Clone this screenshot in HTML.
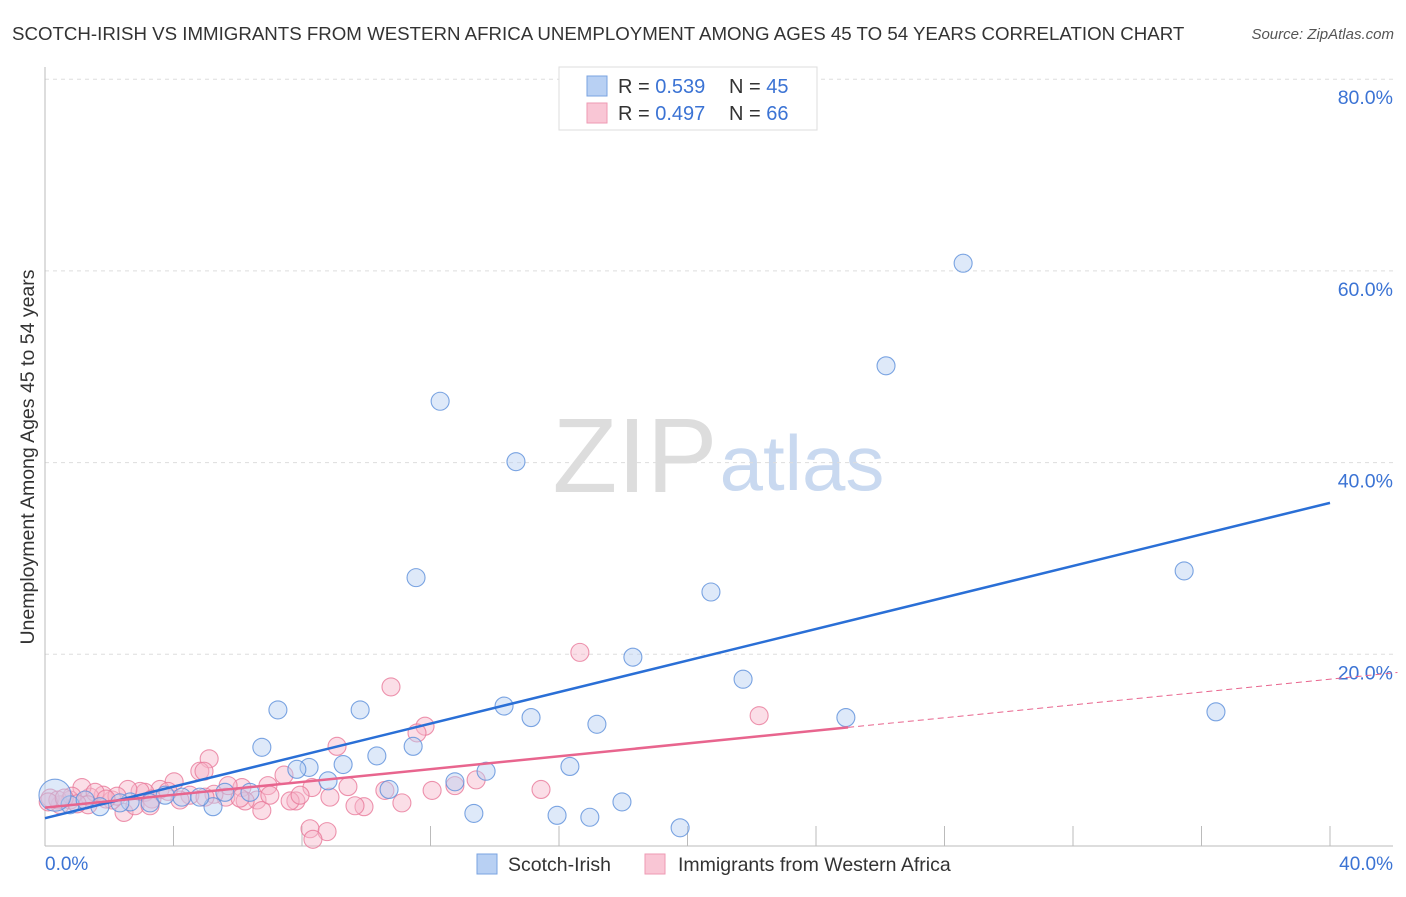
<!DOCTYPE html>
<html><head><meta charset="utf-8"><style>
body{margin:0;background:#fff;font-family:"Liberation Sans",sans-serif;}
svg text{font-family:"Liberation Sans",sans-serif;}
</style></head><body>
<svg width="1406" height="892" viewBox="0 0 1406 892">
<text x="12" y="40" font-size="18.7" fill="#333">SCOTCH-IRISH VS IMMIGRANTS FROM WESTERN AFRICA UNEMPLOYMENT AMONG AGES 45 TO 54 YEARS CORRELATION CHART</text>
<text x="1394" y="39" font-size="15" fill="#555" font-style="italic" text-anchor="end">Source: ZipAtlas.com</text>
<g>
<text x="635" y="492" font-size="106" fill="#ddd" font-family="Liberation Serif, serif" text-anchor="middle">ZIP</text>
<text x="802" y="490" font-size="78" fill="#c9d9f0" text-anchor="middle">atlas</text>
</g>
<g id="grid"></g>
<g id="axes"></g>
<g id="marks"></g>
<text transform="translate(34,457) rotate(-90)" font-size="19.5" fill="#333" text-anchor="middle">Unemployment Among Ages 45 to 54 years</text>
<text x="45" y="870" font-size="19" fill="#3b73d4">0.0%</text>
<text x="1393" y="870" font-size="19" fill="#3b73d4" text-anchor="end">40.0%</text>
<g>
<rect x="559" y="67" width="258" height="63" fill="#fff" stroke="#ddd"/>
<rect x="587" y="76" width="20" height="20" fill="#b8d0f3" stroke="#7aa3e0"/>
<rect x="587" y="103" width="20" height="20" fill="#f9c6d5" stroke="#ee9ab3"/>
<text x="618" y="93" font-size="20" fill="#333">R = <tspan fill="#3b73d4">0.539</tspan></text>
<text x="729" y="93" font-size="20" fill="#333">N = <tspan fill="#3b73d4">45</tspan></text>
<text x="618" y="120" font-size="20" fill="#333">R = <tspan fill="#3b73d4">0.497</tspan></text>
<text x="729" y="120" font-size="20" fill="#333">N = <tspan fill="#3b73d4">66</tspan></text>
</g>
<g>
<rect x="477" y="854" width="20" height="20" fill="#b8d0f3" stroke="#7aa3e0"/>
<text x="508" y="871" font-size="19.5" fill="#333">Scotch-Irish</text>
<rect x="645" y="854" width="20" height="20" fill="#f9c6d5" stroke="#ee9ab3"/>
<text x="678" y="871" font-size="19.5" fill="#333">Immigrants from Western Africa</text>
</g>
</svg>
<script>
const yTicks=[20,40,60,80];
const yTickLabels=["20.0%","40.0%","60.0%","80.0%"];
const xTicks=[0,4,8,12,16,20,24,28,32,36,40];
const blueX=[28.58,26.18,12.30,14.66,11.55,20.73,35.46,18.30,21.73,36.45,7.25,9.81,14.29,15.13,17.18,24.93,6.75,11.46,10.33,8.22,9.28,7.84,8.81,13.73,16.34,12.76,10.71,17.96,13.35,15.94,16.96,19.77,5.23,4.26,3.27,1.71,0.78,0.31,2.65,5.60,6.38,4.82,3.74,1.25,2.33];
const blueY=[60.8,50.1,46.4,40.1,28.0,26.5,28.7,19.7,17.4,14.0,14.2,14.2,14.6,13.4,12.7,13.4,10.3,10.4,9.4,8.2,8.5,8.0,6.8,7.8,8.3,6.7,5.9,4.6,3.4,3.2,3.0,1.9,4.1,5.1,4.5,4.1,4.3,5.3,4.6,5.6,5.6,5.1,5.3,4.8,4.5];
const pinkX=[16.65,10.77,22.23,11.83,11.58,9.09,5.11,4.82,4.95,8.31,9.43,15.44,12.76,13.42,12.05,11.11,9.93,9.65,8.87,7.81,7.63,7.44,6.94,6.60,6.13,6.23,6.75,5.63,5.70,5.26,4.51,4.02,3.58,3.11,2.96,2.58,2.46,2.09,1.81,1.40,1.15,0.78,0.47,0.16,8.25,8.78,8.34,4.20,3.33,3.83,2.24,1.56,6.07,4.98,10.58,7.94,2.80,0.40,0.84,1.34,3.27,7.00,0.10,0.60,1.00,1.90];
const pinkY=[20.2,16.6,13.6,12.5,11.8,10.4,9.1,7.8,7.8,6.1,6.2,5.9,6.3,6.9,5.8,4.5,4.1,4.2,5.1,4.7,4.7,7.4,6.3,4.8,6.1,4.7,3.7,5.1,6.3,5.4,5.3,6.7,5.9,5.6,5.7,5.9,3.5,4.8,5.3,5.1,6.1,4.8,4.3,5.0,1.8,1.5,0.7,4.8,4.9,5.7,5.2,5.6,5.0,5.1,5.8,5.3,4.2,4.8,5.2,4.3,4.2,5.3,4.6,5.0,4.4,4.9];
const blueTrend=[2.9,35.8];
const pinkTrend=[4.0,17.4];
const pinkSolidEnd=25;
const NS='http://www.w3.org/2000/svg';
const X=v=>45+v/40*1285;
const Y=v=>846-v/20*191.7;
function mk(t,a,p){const e=document.createElementNS(NS,t);for(const k in a)e.setAttribute(k,a[k]);p.appendChild(e);return e;}
const grid=document.getElementById('grid'),axes=document.getElementById('axes'),marks=document.getElementById('marks');
yTicks.forEach((t,i)=>{
 const l=mk('line',{x1:45,x2:1393,y1:Y(t),y2:Y(t),stroke:'#ddd','stroke-dasharray':'4,4'},grid);
 
 
 const tx=mk('text',{x:1393,y:Y(t)+25,'font-size':19.5,fill:'#3b73d4','text-anchor':'end'},grid);
 tx.textContent=yTickLabels[i];
 
 
});
const ya=mk('line',{x1:45,x2:45,y1:67,y2:846,stroke:'#bbb'},axes);


const xa=mk('line',{x1:45,x2:1393,y1:846,y2:846,stroke:'#bbb'},axes);


xTicks.forEach(t=>{
 const l=mk('line',{x1:X(t),x2:X(t),y1:826,y2:846,stroke:'#bbb'},axes);
 
 
});
function pts(xs,ys,fill,stroke,name){
 xs.forEach((x,i)=>{
  const r=(name==='scotch-irish-point'&&x<0.5)?16:9;
  const c=mk('circle',{cx:X(x),cy:Y(ys[i]),r:r,fill:fill,'fill-opacity':0.45,stroke:stroke,'stroke-width':1.1,'stroke-opacity':0.8},marks);
  
  
 });
}
pts(pinkX,pinkY,'#f7b6c9','#e8799a','western-africa-point');
pts(blueX,blueY,'#b5cff2','#5b8fdb','scotch-irish-point');
const bl=mk('line',{x1:X(0),y1:Y(blueTrend[0]),x2:X(40),y2:Y(blueTrend[1]),stroke:'#2a6fd6','stroke-width':2.5},marks);


const ps=(pinkTrend[1]-pinkTrend[0])/40;
const pl=mk('line',{x1:X(0),y1:Y(pinkTrend[0]),x2:X(pinkSolidEnd),y2:Y(pinkTrend[0]+ps*pinkSolidEnd),stroke:'#e8658e','stroke-width':2.5},marks);


const pd=mk('line',{x1:X(pinkSolidEnd),y1:Y(pinkTrend[0]+ps*pinkSolidEnd),x2:X(42.1),y2:Y(pinkTrend[0]+ps*42.1),stroke:'#e8658e','stroke-width':1,'stroke-dasharray':'6,4'},marks);


</script>
</body></html>
